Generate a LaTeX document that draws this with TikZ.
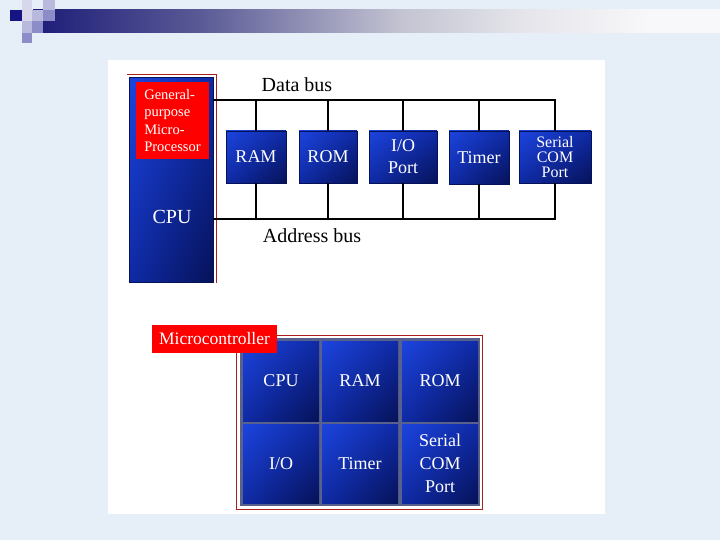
\documentclass[tikz,border=0pt]{standalone}
\usepackage{fontspec}
\setmainfont{Liberation Serif}
\usetikzlibrary{shadings}
\definecolor{bgblue}{RGB}{230,238,248}
\definecolor{navy}{RGB}{28,28,120}
\definecolor{sqnavy}{RGB}{20,20,130}
\definecolor{sqlav}{RGB}{140,140,200}
\definecolor{sqlight}{RGB}{185,185,222}
\definecolor{sqpale}{RGB}{215,215,236}
\definecolor{barend}{RGB}{248,248,250}
\definecolor{boxtl}{RGB}{28,68,222}
\definecolor{boxmid}{RGB}{15,42,165}
\definecolor{boxbr}{RGB}{6,18,88}
\definecolor{gridgrey}{RGB}{88,96,140}
\definecolor{lblred}{RGB}{255,0,0}
\definecolor{framered}{RGB}{170,30,30}
\pgfdeclarehorizontalshading{headerbar}{100bp}{%
  color(0bp)=(navy); color(25bp)=(navy);
  color(37.2bp)=(rgb,255:red,90;green,90;blue,150);
  color(51.7bp)=(rgb,255:red,195;green,195;blue,210);
  color(60.4bp)=(rgb,255:red,228;green,228;blue,234);
  color(69.9bp)=(barend); color(100bp)=(barend)}
\tikzset{
  blockbox/.style={draw=boxbr, line width=0.6pt, shade, upper left=boxtl, upper right=boxmid,
    lower left=boxmid, lower right=boxbr, text=white, align=center, inner sep=0pt,
    font=\fontsize{18}{22}\selectfont},
  buslabel/.style={font=\fontsize{20}{22}\selectfont, inner sep=0pt},
  bus/.style={line width=1.8pt, black},
  redlabel/.style={fill=lblred, text=white, inner sep=0pt},
  frameline/.style={draw=framered, line width=0.8pt},
}
\begin{document}
\begin{tikzpicture}[x=1pt,y=-1pt]
\useasboundingbox (0,0) rectangle (720,540);
% background
\fill[bgblue] (0,0) rectangle (720,540);
% header bar
\shade[shading=headerbar] (33,10) rectangle (720,33);
\fill[sqpale] (22,0) rectangle (32,10);
\fill[sqlight] (43,0) rectangle (55,10);
\fill[sqnavy] (10,10) rectangle (22,21);
\fill[sqpale] (22,10) rectangle (32,21);
\fill[sqlight] (32,10) rectangle (43,21);
\fill[sqlav] (43,10) rectangle (55,21);
\fill[sqlight] (22,21) rectangle (32,33);
\fill[sqlav] (32,21) rectangle (43,33);
\fill[sqlav] (22,33) rectangle (32,43);
% white panel
\fill[white] (108,60) rectangle (605,514);

% ---------- top diagram ----------
\draw[frameline] (127,74.5) -- (216.5,74.5) -- (216.5,283);
\node[blockbox, minimum width=84pt, minimum height=205pt] (cpu) at (171,180) {};
\node[redlabel, minimum width=73pt, minimum height=77pt, align=left,
      font=\fontsize{14.5}{17.5}\selectfont] (gp) at (172.5,120.5) {General-\\purpose\\Micro-\\Processor};
\node[text=white, inner sep=0pt, font=\fontsize{20}{22}\selectfont] (cputxt) at (172,217) {CPU};

\node[blockbox, minimum width=60pt, minimum height=52pt] (ram) at (256,157) {RAM};
\node[blockbox, minimum width=58pt, minimum height=52pt] (rom) at (328,157) {ROM};
\node[blockbox, minimum width=68pt, minimum height=52pt] (io) at (403,157) {I/O\\Port};
\node[blockbox, minimum width=60pt, minimum height=53pt] (timer) at (479,157.5) {Timer};
\node[blockbox, minimum width=72pt, minimum height=52pt, font=\fontsize{16}{15}\selectfont] (serial) at (555,157) {Serial\\COM\\Port};

\coordinate (db0) at (213,100);
\coordinate (ab0) at (213,219);
\draw[bus] (db0) -- (serial.north |- db0) -- (serial.north);
\draw[bus] (ab0) -- (serial.south |- ab0) -- (serial.south);
\foreach \b in {ram,rom,io,timer}{
  \draw[bus] (\b.north) -- (\b.north |- db0);
  \draw[bus] (\b.south) -- (\b.south |- ab0);
}
\node[buslabel] (dbl) at (297,85) {Data bus};
\node[buslabel] (abl) at (312,236) {Address bus};

% ---------- bottom diagram ----------
\draw[frameline] (236.5,335.5) rectangle (482,509);
\fill[gridgrey] (239.5,338) rectangle (480,506);
\node[blockbox, draw=none, minimum width=76pt, minimum height=80pt] (mcpu) at (281,381) {CPU};
\node[blockbox, draw=none, minimum width=76pt, minimum height=80pt] (mram) at (360,381) {RAM};
\node[blockbox, draw=none, minimum width=76pt, minimum height=80pt] (mrom) at (440,381) {ROM};
\node[blockbox, draw=none, minimum width=76pt, minimum height=79pt] (mio) at (281,463.5) {I/O};
\node[blockbox, draw=none, minimum width=76pt, minimum height=79pt] (mtimer) at (360,463.5) {Timer};
\node[blockbox, draw=none, minimum width=76pt, minimum height=79pt, font=\fontsize{18}{23}\selectfont] (mserial) at (440,463.5) {Serial\\COM\\Port};
\node[redlabel, minimum width=125pt, minimum height=28pt, font=\fontsize{17.5}{18}\selectfont] (mc) at (214.5,339) {Microcontroller};
\end{tikzpicture}
\end{document}
